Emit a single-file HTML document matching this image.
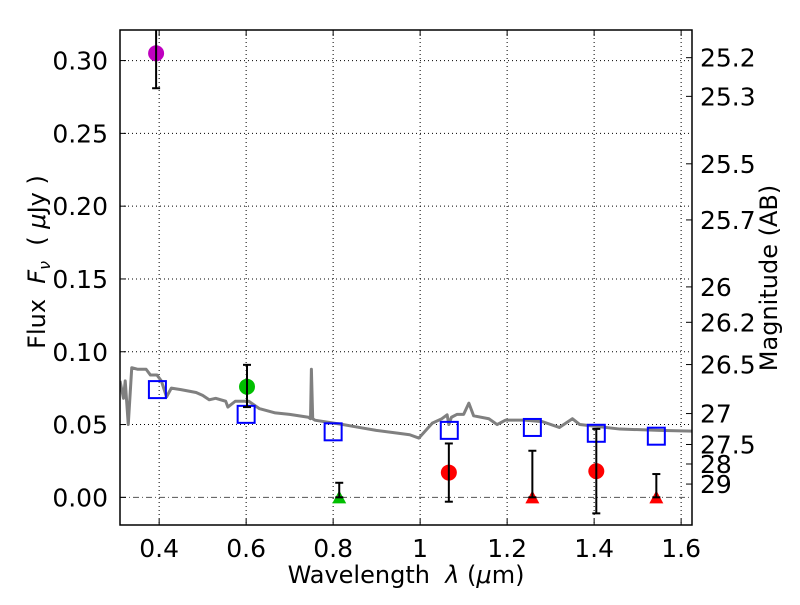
<!DOCTYPE html>
<html><head><meta charset="utf-8"><style>
body{margin:0;background:#fff;}
svg text{font-family:"DejaVu Sans","Liberation Sans",sans-serif;}
</style></head><body>
<svg id="chart" width="800" height="600" xmlns="http://www.w3.org/2000/svg">
<rect x="0" y="0" width="800" height="600" fill="#fff"/>
<g id="grid"></g>
<g id="series"></g>
<rect x="120" y="30" width="572" height="495" fill="none" stroke="#000" stroke-width="1.5"/>
<g id="axes"></g>
<text x="406" y="583" font-size="24" text-anchor="middle" xml:space="preserve">Wavelength  <tspan font-style="italic">λ</tspan> (<tspan font-style="italic">μ</tspan>m)</text>
<text transform="translate(45,262) rotate(-90)" font-size="24" text-anchor="middle" xml:space="preserve">Flux  <tspan font-style="italic">F<tspan font-size="16" dy="5">ν</tspan></tspan><tspan dy="-5">  ( </tspan><tspan font-style="italic">μ</tspan>Jy )</text>
<text transform="translate(777,278) rotate(-90)" font-size="24" text-anchor="middle">Magnitude (AB)</text>
</svg>
<script>
const xTicks=[0.4,0.6,0.8,1.0,1.2,1.4,1.6];
const xTickLabels=["0.4","0.6","0.8","1","1.2","1.4","1.6"];
const yTicks=[0,0.05,0.10,0.15,0.20,0.25,0.30];
const yTickLabels=["0.00","0.05","0.10","0.15","0.20","0.25","0.30"];
const magTicks=[25.2,25.3,25.5,25.7,26,26.2,26.5,27,27.5,28,29];
const sedX=[0.31,0.318,0.322,0.329,0.337,0.35,0.37,0.38,0.395,0.405,0.417,0.428,0.45,0.485,0.5,0.515,0.53,0.553,0.558,0.575,0.606,0.63,0.667,0.7,0.743,0.748,0.75,0.753,0.758,0.822,0.86,0.899,0.95,0.976,0.997,1.028,1.05,1.062,1.066,1.072,1.085,1.1,1.112,1.123,1.158,1.177,1.196,1.24,1.281,1.32,1.35,1.367,1.459,1.55,1.625];
const sedY=[0.080,0.068,0.080,0.050,0.089,0.088,0.088,0.084,0.084,0.080,0.069,0.075,0.074,0.072,0.070,0.067,0.068,0.066,0.062,0.066,0.066,0.061,0.058,0.057,0.055,0.054,0.088,0.054,0.053,0.050,0.048,0.046,0.044,0.043,0.0407,0.051,0.054,0.0567,0.050,0.055,0.057,0.057,0.0647,0.056,0.054,0.050,0.053,0.053,0.052,0.048,0.054,0.050,0.0469,0.046,0.0455];
const modelX=[0.396,0.60,0.80,1.067,1.258,1.405,1.543];
const modelY=[0.074,0.057,0.045,0.046,0.048,0.044,0.042];
const obsX=[0.393,0.602,1.066,1.405];
const obsY=[0.305,0.076,0.017,0.018];
const obsLo=[0.281,0.062,-0.003,-0.011];
const obsHi=[0.33,0.091,0.037,0.047];
const obsColor=["#bf00bf","#00bf00","#ff0000","#ff0000"];
const limX=[0.814,1.258,1.543];
const limHi=[0.010,0.032,0.016];
const limColor=["#00bf00","#ff0000","#ff0000"];
const NS="http://www.w3.org/2000/svg";
const X0=0.31,X1=1.625,Y0=-0.019,Y1=0.321,L=120,R=692,T=30,B=525;
const sx=v=>L+(v-X0)/(X1-X0)*(R-L);
const sy=v=>B-(v-Y0)/(Y1-Y0)*(B-T);
function mk(tag,attrs,parent){const e=document.createElementNS(NS,tag);for(const k in attrs)e.setAttribute(k,attrs[k]);parent.appendChild(e);return e;}
const grid=document.getElementById('grid'),axes=document.getElementById('axes'),ser=document.getElementById('series');
xTicks.forEach((t,i)=>{const x=sx(t);
 const g=mk('line',{x1:x,x2:x,y1:T,y2:B,stroke:'#000','stroke-width':1,'stroke-dasharray':'1,3'},grid);
 
 mk('line',{x1:x,x2:x,y1:B,y2:B-6,stroke:'#000'},axes);mk('line',{x1:x,x2:x,y1:T,y2:T+6,stroke:'#000'},axes);
 const tx=mk('text',{x:x,y:B+32,'font-size':25,'text-anchor':'middle'},axes);tx.textContent=xTickLabels[i];
 });
yTicks.forEach((t,i)=>{const y=sy(t);
 const g=mk('line',{x1:L,x2:R,y1:y,y2:y,stroke:t===0?'#555':'#000','stroke-width':1,'stroke-dasharray':t===0?'6,3,1,3':'1,3'},grid);
 
 mk('line',{x1:L,x2:L+6,y1:y,y2:y,stroke:'#000'},axes);
 const tx=mk('text',{x:L-12,y:y+9,'font-size':25,'text-anchor':'end'},axes);tx.textContent=yTickLabels[i];
 });
magTicks.forEach(m=>{const f=Math.pow(10,(23.9-m)/2.5);const y=sy(f);
 mk('line',{x1:R-6,x2:R,y1:y,y2:y,stroke:'#000'},axes);
 const tx=mk('text',{x:R+8,y:y+9,'font-size':25},axes);tx.textContent=String(m);
 });
const clip=mk('clipPath',{id:'pc'},ser);mk('rect',{x:L,y:T,width:R-L,height:B-T},clip);
const gs=mk('g',{'clip-path':'url(#pc)'},ser);
const sed=mk('polyline',{points:sedX.map((x,i)=>sx(x)+','+sy(sedY[i])).join(' '),fill:'none',stroke:'#808080','stroke-width':3,'stroke-linejoin':'round'},gs);

modelX.forEach((x,i)=>{const r=mk('rect',{x:sx(x)-8.5,y:sy(modelY[i])-8.5,width:17,height:17,fill:'none',stroke:'#0000ff','stroke-width':2},gs);
 });
function ebar(x,lo,hi){const px=sx(x);mk('line',{x1:px,x2:px,y1:sy(lo),y2:sy(hi),stroke:'#000','stroke-width':2},gs);
 [lo,hi].forEach(v=>mk('line',{x1:px-4,x2:px+4,y1:sy(v),y2:sy(v),stroke:'#000','stroke-width':2},gs));}
obsX.forEach((x,i)=>{const c=mk('circle',{cx:sx(x),cy:sy(obsY[i]),r:8,fill:obsColor[i]},gs);
 
 ebar(x,obsLo[i],obsHi[i]);});
limX.forEach((x,i)=>{const px=sx(x),py=sy(0);
 const p=mk('polygon',{points:`${px},${py-7} ${px-7},${py+6} ${px+7},${py+6}`,fill:limColor[i]},gs);
 
 ebar(x,0,limHi[i]);});
</script>
</body></html>
